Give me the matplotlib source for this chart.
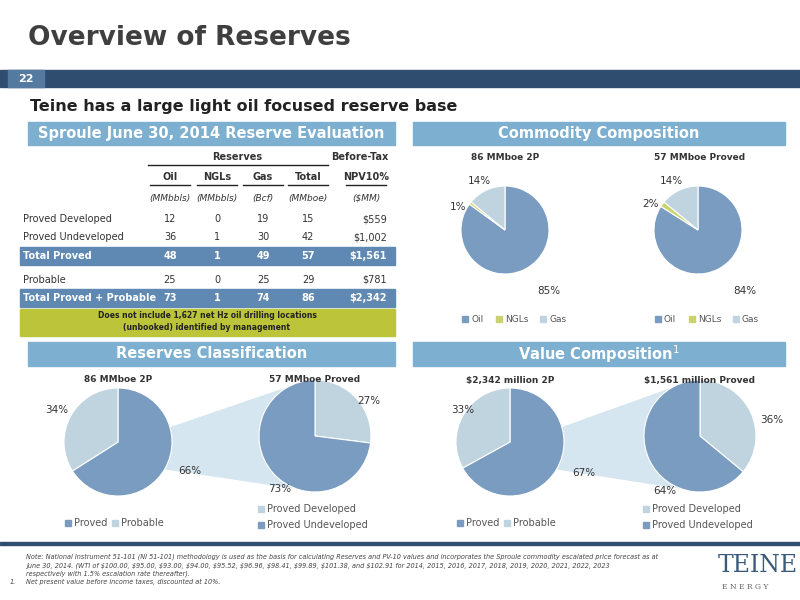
import matplotlib
matplotlib.use("Agg")
import matplotlib.pyplot as plt
from matplotlib.patches import Rectangle, Polygon

BLUE = "#7A9CC0"; LIGHT = "#C0D4E0"; NGL = "#C9D46E"; HDR = "#7DAFD0"
BAND = "#5F89B3"; DARK = "#2F4D6E"; GREEN = "#BCC43A"; TXT = "#333333"

rows = ["Proved Developed", "Proved Undeveloped", "Total Proved", "Probable", "Total Proved + Probable"]
oil = [12, 36, 48, 25, 73]
ngl = [0, 1, 1, 0, 1]
gas = [19, 30, 49, 25, 74]
total = [15, 42, 57, 29, 86]
npv = ["\\$559", "\\$1,002", "\\$1,561", "\\$781", "\\$2,342"]

comm_labels = ["Oil", "NGLs", "Gas"]
comm_2p = [85, 1, 14]
comm_p = [84, 2, 14]
cls_2p = [66, 34]
cls_p = [27, 73]
val_2p = [67, 33]
val_p = [36, 64]

fig = plt.figure(figsize=(8, 6), dpi=100)
W, H = 800, 600
def fy(py): return 1 - py / H
def fx(px): return px / W
def rect(x0, y0, x1, y1, c, z=0):
    fig.patches.append(Rectangle((fx(x0), fy(y1)), fx(x1 - x0), (y1 - y0) / H,
                                 transform=fig.transFigure, color=c, zorder=z))
def txt(x, y, s, **kw):
    kw.setdefault("color", TXT)
    fig.text(fx(x), fy(y), s, va="center", **kw)

txt(28, 38, "Overview of Reserves", fontsize=19, fontweight="bold", color="#3F3F3F")
rect(0, 70, 800, 87, DARK)
rect(8, 70, 44, 87, "#557AA0")
txt(26, 78.5, "22", fontsize=8, fontweight="bold", color="white", ha="center")
txt(30, 107, "Teine has a large light oil focused reserve base", fontsize=11.5, fontweight="bold", color="#222222")

for (x0, x1, y0, y1, s) in [(28, 395, 122, 145, "Sproule June 30, 2014 Reserve Evaluation"),
                            (413, 785, 122, 145, "Commodity Composition"),
                            (28, 395, 342, 366, "Reserves Classification"),
                            (413, 785, 342, 366, "Value Composition$^{1}$")]:
    rect(x0, y0, x1, y1, HDR)
    txt((x0 + x1) / 2, (y0 + y1) / 2, s, fontsize=10.5, fontweight="bold", color="white", ha="center")

cols = [170, 217, 263, 308, 387]
txt(237, 157, "Reserves", fontsize=7, fontweight="bold", ha="center")
txt(360, 157, "Before-Tax", fontsize=7, fontweight="bold", ha="center")
fig.lines.append(plt.Line2D([fx(148), fx(328)], [fy(165)] * 2, transform=fig.transFigure, color="#222", lw=1))
heads = ["Oil", "NGLs", "Gas", "Total", "NPV10%"]
units = ["(MMbbls)", "(MMbbls)", "(Bcf)", "(MMboe)", "(\\$MM)"]
for i, (h, u) in enumerate(zip(heads, units)):
    cx = cols[i] if i < 4 else 366
    txt(cx, 177, h, fontsize=7, fontweight="bold", ha="center")
    txt(cx, 198, u, fontsize=6.5, style="italic", ha="center")
    fig.lines.append(plt.Line2D([fx(cx - 20), fx(cx + 20)], [fy(185)] * 2, transform=fig.transFigure, color="#222", lw=1))
ys = [219, 237, 256, 280, 298]
for k, r in enumerate(rows):
    bold = r.startswith("Total")
    c = "white" if bold else TXT
    if bold:
        rect(20, ys[k] - 9, 395, ys[k] + 9, BAND)
    fw = "bold" if bold else "normal"
    txt(23, ys[k], r, fontsize=7, color=c, fontweight=fw)
    for i, v in enumerate([oil[k], ngl[k], gas[k], total[k]]):
        txt(cols[i], ys[k], str(v), fontsize=7, color=c, fontweight=fw, ha="center")
    txt(387, ys[k], npv[k], fontsize=7, color=c, fontweight=fw, ha="right")
rect(20, 309, 395, 336, GREEN)
txt(207, 316, "Does not include 1,627 net Hz oil drilling locations", fontsize=5.5, fontweight="bold", ha="center", color="#222")
txt(207, 328, "(unbooked) identified by management", fontsize=5.5, fontweight="bold", ha="center", color="#222")

def pie(cx, cy, r, vals, cols_, pct_pos):
    R = r * 1.1
    ax = fig.add_axes([fx(cx - R), fy(cy + R), 2 * R / W, 2 * R / H])
    ax.pie(vals, colors=cols_, startangle=90, counterclock=False,
           wedgeprops=dict(edgecolor="white", linewidth=0.8))
    ax.set_xlim(-1.1, 1.1); ax.set_ylim(-1.1, 1.1)
    ax.set_aspect("auto")
    for (px, py, s) in pct_pos:
        txt(px, py, s, fontsize=7.5)
    return ax

txt(505, 158, "86 MMboe 2P", fontsize=6.5, fontweight="bold", ha="center")
txt(700, 158, "57 MMboe Proved", fontsize=6.5, fontweight="bold", ha="center")
pie(505, 230, 44, comm_2p, [BLUE, NGL, LIGHT], [(537, 291, "85%"), (450, 207, "1%"), (468, 181, "14%")])
pie(698, 230, 44, comm_p, [BLUE, NGL, LIGHT], [(733, 291, "84%"), (642, 204, "2%"), (660, 181, "14%")])
for bx in [462, 655]:
    for j, (lab, c) in enumerate(zip(comm_labels, [BLUE, NGL, LIGHT])):
        x0 = bx + [0, 34, 78][j]
        rect(x0, 316, x0 + 6, 322, c)
        txt(x0 + 9, 319, lab, fontsize=6.5, color="#555")

def pair(c1, c2, v1, v2, t1, t2, p1, p2, leg1, leg2):
    fig.patches.append(Polygon([(fx(c1[0] + 40), fy(c1[1] - 10)), (fx(c2[0] - 5), fy(c2[1] - 56)),
                                (fx(c2[0] - 20), fy(c2[1] + 52)), (fx(c1[0] + 35), fy(c1[1] + 25))],
                               closed=True, transform=fig.transFigure, color="#D5E6F0", zorder=-1))
    txt(c1[0], 380, t1, fontsize=6.5, fontweight="bold", ha="center")
    txt(c2[0], 380, t2, fontsize=6.5, fontweight="bold", ha="center")
    pie(c1[0], c1[1], 54, v1, [BLUE, LIGHT], p1)
    pie(c2[0], c2[1], 56, v2, [LIGHT, BLUE], p2)
    x0 = c1[0] - 53
    for j, lab in enumerate(leg1):
        xx = x0 + [0, 47][j]
        rect(xx, 520, xx + 6, 526, [BLUE, LIGHT][j])
        txt(xx + 9, 523, lab, fontsize=7, color="#555")
    for j, lab in enumerate(leg2):
        xx = c2[0] - 57
        yy = [509, 525][j]
        rect(xx, yy - 3, xx + 6, yy + 3, [LIGHT, BLUE][j])
        txt(xx + 9, yy, lab, fontsize=7, color="#555")

pair((118, 442), (315, 436), cls_2p, cls_p, "86 MMboe 2P", "57 MMboe Proved",
     [(178, 471, "66%"), (45, 410, "34%")], [(357, 401, "27%"), (268, 489, "73%")],
     ["Proved", "Probable"], ["Proved Developed", "Proved Undeveloped"])
pair((510, 442), (700, 436), val_2p, val_p, "\\$2,342 million 2P", "\\$1,561 million Proved",
     [(572, 473, "67%"), (451, 410, "33%")], [(760, 420, "36%"), (653, 491, "64%")],
     ["Proved", "Probable"], ["Proved Developed", "Proved Undeveloped"])

rect(0, 542, 800, 545, DARK)
notes = ["Note: National Instrument 51-101 (NI 51-101) methodology is used as the basis for calculating Reserves and PV-10 values and incorporates the Sproule commodity escalated price forecast as at",
         "June 30, 2014. (WTI of \\$100.00, \\$95.00, \\$93.00, \\$94.00, \\$95.52, \\$96.96, \\$98.41, \\$99.89, \\$101.38, and \\$102.91 for 2014, 2015, 2016, 2017, 2018, 2019, 2020, 2021, 2022, 2023",
         "respectively with 1.5% escalation rate thereafter)."]
for i, n in enumerate(notes):
    txt(26, 557 + i * 8.5, n, fontsize=4.7, style="italic", color="#444")
txt(10, 582, "1.", fontsize=4.7, style="italic", color="#444")
txt(26, 582, "Net present value before income taxes, discounted at 10%.", fontsize=4.7, style="italic", color="#444")
txt(718, 566, "TEINE", fontsize=17, family="DejaVu Serif", color="#3B5A7A")
txt(722, 587, "E N E R G Y", fontsize=5.5, family="DejaVu Serif", color="#666")

fig.savefig("out.png", dpi=100)
